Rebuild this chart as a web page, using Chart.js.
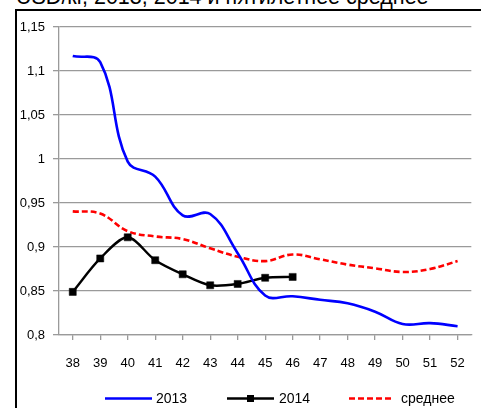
<!DOCTYPE html>
<html>
<head>
<meta charset="utf-8">
<script src="https://cdn.jsdelivr.net/npm/chart.js@4"></script>
<style>
  html, body { margin: 0; padding: 0; background: #fff; overflow: hidden; }
  #wrap { position: relative; width: 481px; height: 408px; overflow: hidden; }
  #frame { position: absolute; left: 15px; top: 9px; width: 480px; height: 420px;
           border-left: 2px solid #000; border-top: 2px solid #000; }
  #title { position: absolute; left: 16px; top: -13px; white-space: nowrap;
           font: 21.5px/21px "Liberation Sans", Arial, sans-serif; color: #000; }
  #box { position: absolute; left: 0; top: 0; width: 481px; height: 408px; }
</style>
</head>
<body>
<div id="wrap">
  <div id="title">USD/кг, 2013, 2014 и пятилетнее среднее</div>
  <div id="frame"></div>
  <div id="box"><canvas id="chart"></canvas></div>
</div>
<script>
// недели
const weeks = ['38', '39', '40', '41', '42', '43', '44', '45', '46', '47', '48', '49', '50', '51', '52'];
const y2013 = [1.117, 1.11, 0.997, 0.98, 0.936, 0.9375, 0.893, 0.845, 0.844, 0.84, 0.836, 0.8265, 0.8125, 0.8135, 0.81];
const y2014 = [0.849, 0.887, 0.911, 0.885, 0.869, 0.8565, 0.858, 0.865, 0.866];
const avg5 = [0.9405, 0.938, 0.918, 0.912, 0.909, 0.8985, 0.889, 0.884, 0.8915, 0.886, 0.88, 0.8758, 0.8716, 0.875, 0.884];
const seriesNames = ['2013', '2014', 'среднее'];

const FONT = 'Liberation Sans, Arial, sans-serif';

function fmt(v) {
  return String(Number(v.toFixed(2))).replace('.', ',');
}

// легенда внизу
const bottomLegend = {
  id: 'bottomLegend',
  afterDraw(chart) {
    const ctx = chart.ctx;
    const ds = chart.data.datasets;
    const y = 398.5;
    const items = [
      { x1: 105, x2: 152, tx: 156 },
      { x1: 227, x2: 274, tx: 279 },
      { x1: 349, x2: 394, tx: 401 }
    ];
    ctx.save();
    items.forEach((it, i) => {
      const d = ds[i];
      ctx.strokeStyle = d.borderColor;
      ctx.lineWidth = d.borderWidth;
      ctx.setLineDash(d.borderDash || []);
      ctx.beginPath();
      ctx.moveTo(it.x1, y);
      ctx.lineTo(it.x2, y);
      ctx.stroke();
      ctx.setLineDash([]);
      if (d.pointRadius > 0) {
        ctx.fillStyle = d.pointBackgroundColor;
        ctx.fillRect((it.x1 + it.x2) / 2 - 3.5, y - 3.5, 7, 7);
      }
      ctx.fillStyle = '#000';
      ctx.font = '14px ' + FONT;
      ctx.textBaseline = 'middle';
      ctx.fillText(seriesNames[i], it.tx, y + 0.5);
    });
    ctx.restore();
  }
};

new Chart(document.getElementById('chart'), {
  type: 'line',
  data: {
    labels: weeks,
    datasets: [
      {
        label: seriesNames[0],
        data: y2013,
        borderColor: '#0000ff',
        borderWidth: 2.6,
        pointRadius: 0,
        tension: 0.4
      },
      {
        label: seriesNames[1],
        data: y2014,
        borderColor: '#000000',
        borderWidth: 2.4,
        pointStyle: 'rect',
        pointRadius: 5,
        pointBorderWidth: 0.5,
        pointBackgroundColor: '#000000',
        pointBorderColor: '#000000',
        tension: 0.3
      },
      {
        label: seriesNames[2],
        data: avg5,
        borderColor: '#ff0000',
        borderWidth: 2.6,
        borderDash: [6, 3],
        pointRadius: 0,
        tension: 0.4
      }
    ]
  },
  options: {
    responsive: true,
    maintainAspectRatio: false,
    animation: false,
    layout: {
      padding: { top: 27, right: 0, bottom: 0, left: 0 }
    },
    plugins: {
      legend: { display: false },
      title: { display: false },
      tooltip: { enabled: false }
    },
    scales: {
      x: {
        offset: true,
        afterFit(scale) { scale.height = 73; },
        grid: {
          drawOnChartArea: false,
          drawTicks: true,
          tickLength: 5,
          color: '#9a9a9a',
          lineWidth: 1.3
        },
        border: { color: '#9a9a9a', width: 1.3 },
        ticks: {
          color: '#000',
          padding: 16,
          maxRotation: 0,
          font: { family: FONT, size: 13 }
        }
      },
      y: {
        min: 0.8,
        max: 1.15,
        afterFit(scale) { scale.width = 59; },
        grid: {
          color: '#9a9a9a',
          lineWidth: 1.3,
          tickLength: 6
        },
        border: { color: '#9a9a9a', width: 1.3 },
        ticks: {
          stepSize: 0.05,
          color: '#000',
          padding: 8,
          font: { family: FONT, size: 13 },
          callback: (v) => fmt(v)
        }
      }
    }
  },
  plugins: [bottomLegend]
});
</script>
</body>
</html>
